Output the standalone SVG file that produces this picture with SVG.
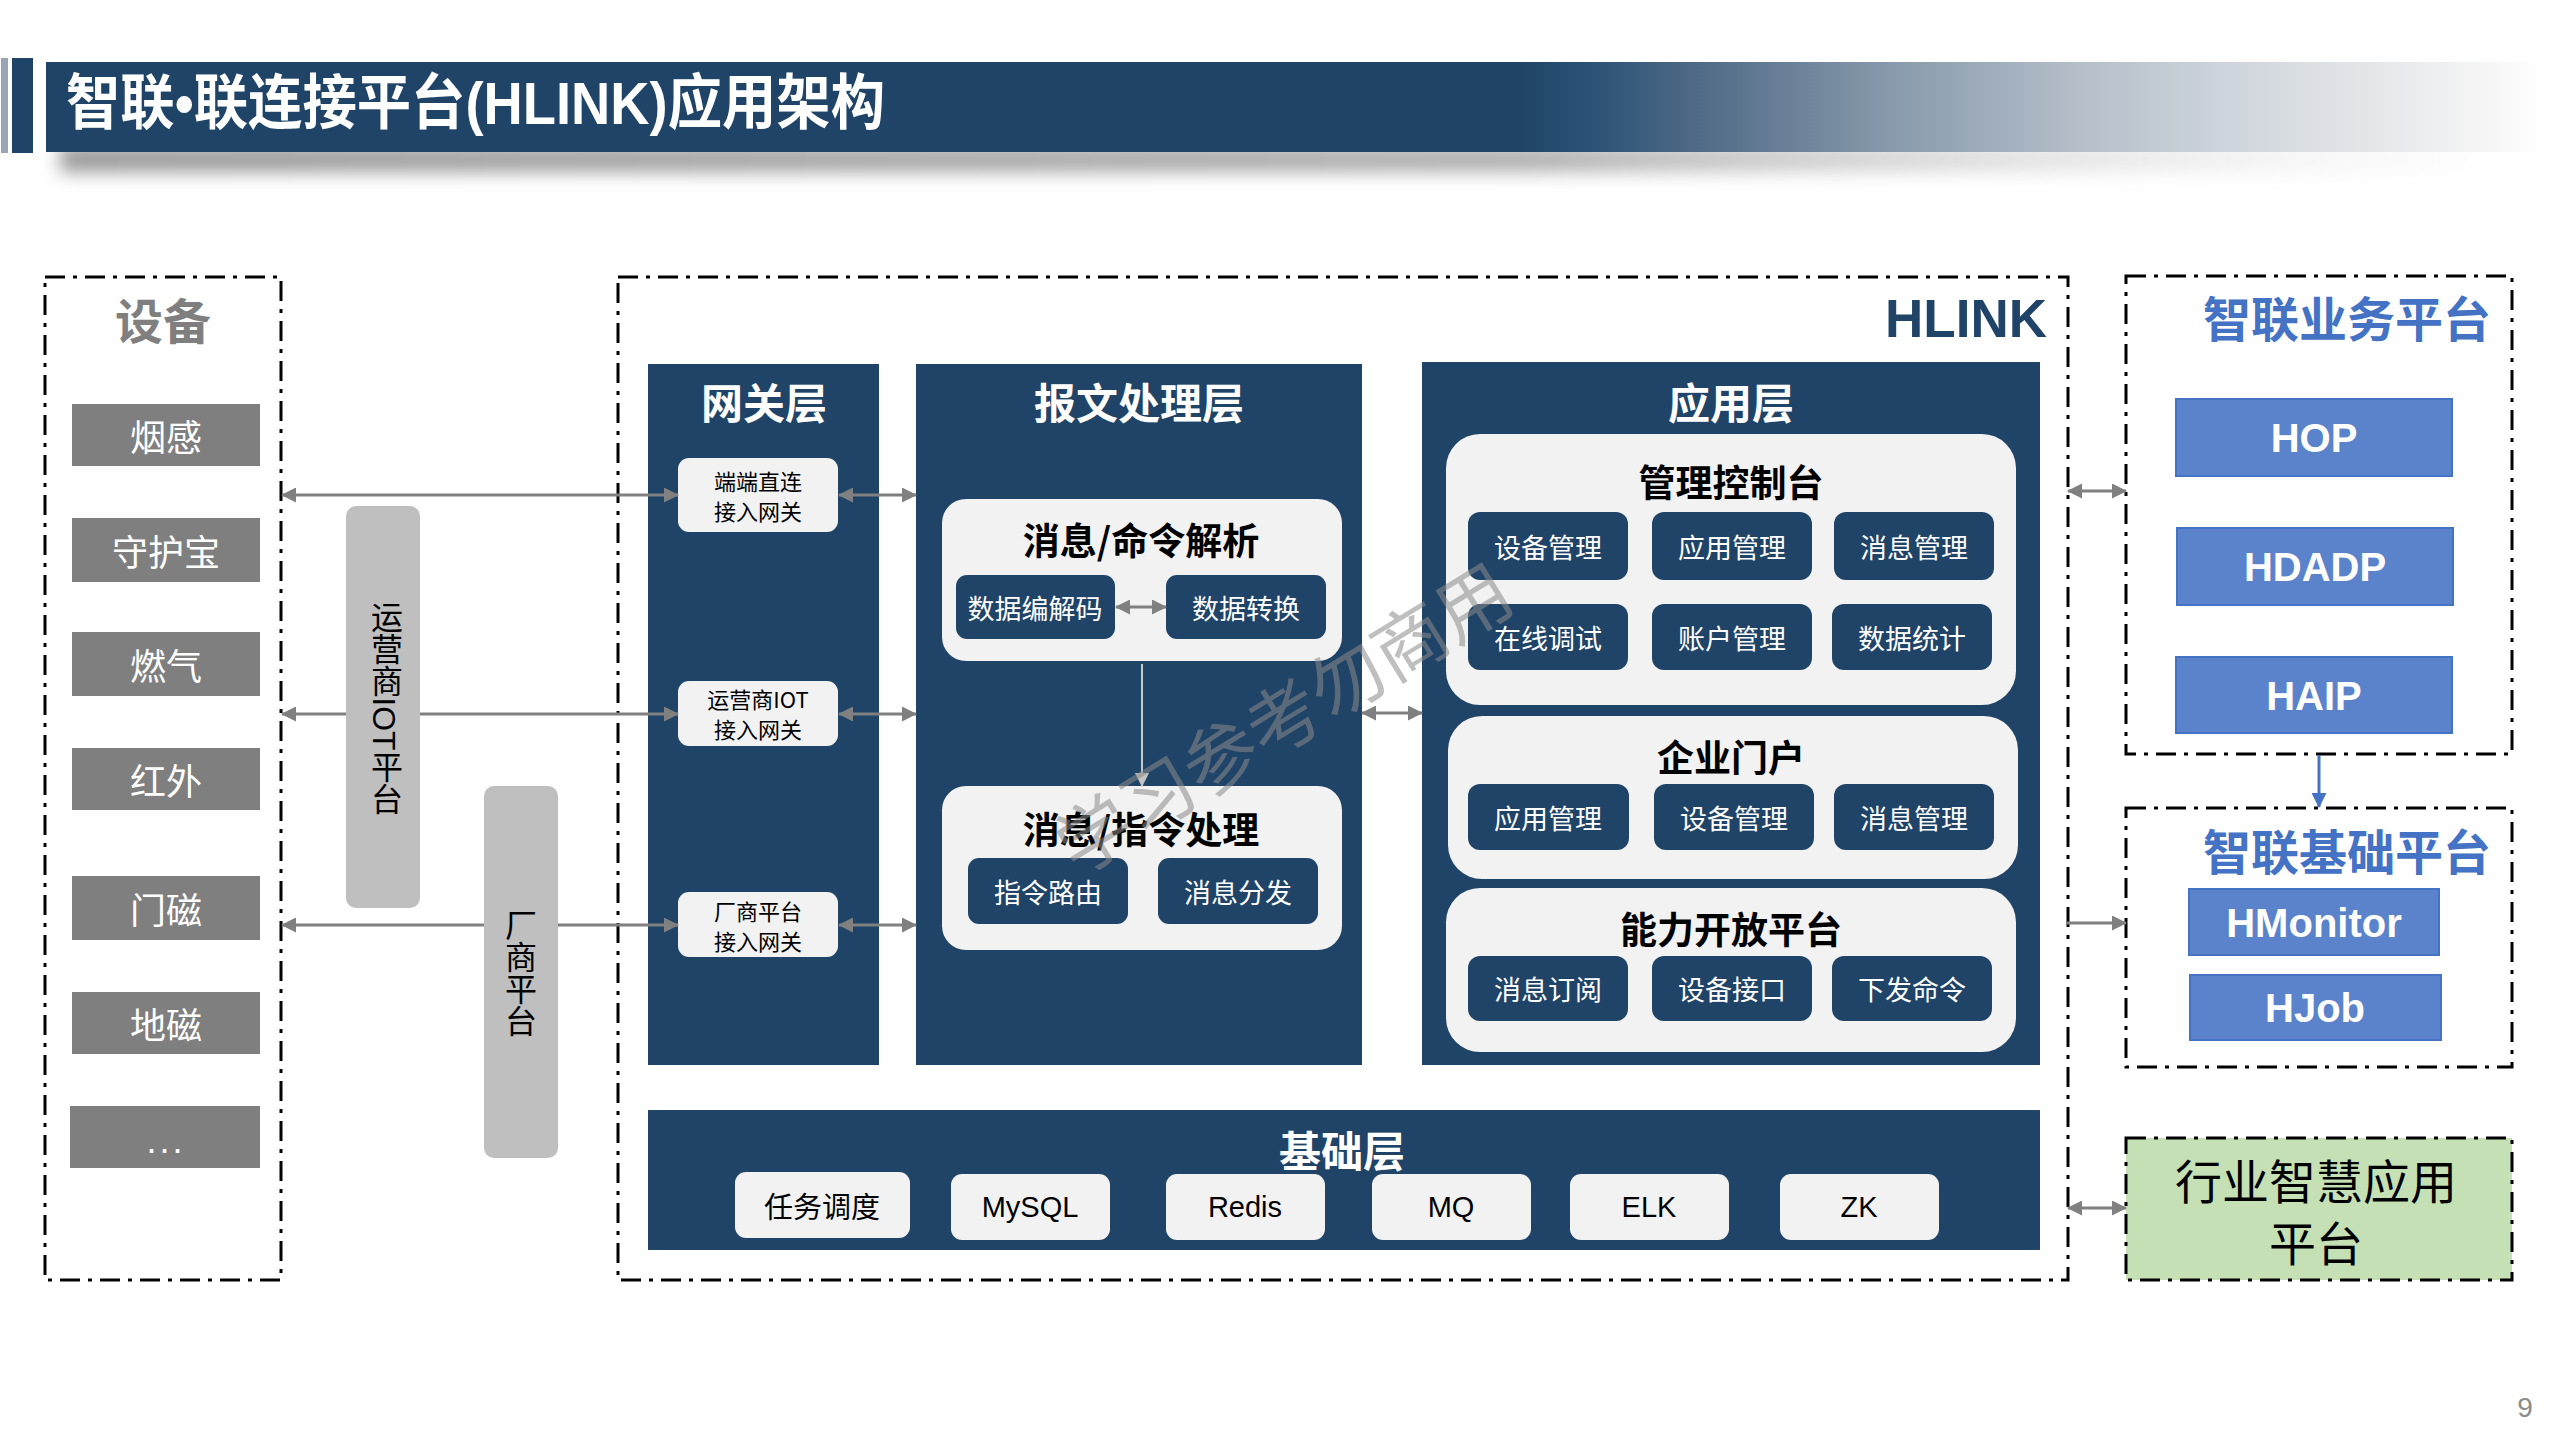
<svg xmlns="http://www.w3.org/2000/svg" width="2560" height="1440" viewBox="0 0 2560 1440">
<style>
.cjk{font-family:"Noto Sans CJK SC","Liberation Sans",sans-serif}
.lat{font-family:"Liberation Sans","Noto Sans CJK SC",sans-serif}
.c{text-anchor:middle;dominant-baseline:central}
.navy{fill:#1f4468}
.light{fill:#f2f2f2}
.dev{fill:#7f7f7f}
.devt{fill:#ffffff;font-size:36px}
.bar{fill:#bfbfbf}
.vt{fill:#000;font-size:32px;writing-mode:vertical-rl}
.colt{fill:#ffffff;font-size:42px;font-weight:bold}
.pt{fill:#000;font-size:37px;font-weight:bold}
.sbt{fill:#ffffff;font-size:27px}
.gwt{fill:#000;font-size:22px}
.baset{fill:#000;font-size:29px}
.dash{fill:none;stroke:#000;stroke-width:3;stroke-dasharray:20 8 4 8}
.bt{fill:#4472c4;font-size:48px;font-weight:bold}
.blue{fill:#5a83cb;stroke:#4472c4;stroke-width:2}
.bwt{fill:#ffffff;font-size:40px;font-weight:bold}
.conn{stroke:#808080;stroke-width:3;fill:none}
</style>
<defs>
<linearGradient id="tg" gradientUnits="userSpaceOnUse" x1="46" y1="0" x2="2540" y2="0">
<stop offset="0" stop-color="#1f4468"/>
<stop offset="0.59" stop-color="#1f4468"/>
<stop offset="0.62" stop-color="#2c5277"/>
<stop offset="0.662" stop-color="#4f6a86"/>
<stop offset="0.742" stop-color="#8a9bad"/>
<stop offset="0.822" stop-color="#b8c2cc"/>
<stop offset="0.901" stop-color="#d8dde2"/>
<stop offset="0.981" stop-color="#f6f6f6"/>
<stop offset="1" stop-color="#ffffff"/>
</linearGradient>
<linearGradient id="sg" gradientUnits="userSpaceOnUse" x1="60" y1="0" x2="2500" y2="0">
<stop offset="0" stop-color="#8c8c8c" stop-opacity="0.9"/>
<stop offset="0.6" stop-color="#9a9a9a" stop-opacity="0.8"/>
<stop offset="1" stop-color="#cccccc" stop-opacity="0"/>
</linearGradient>
<filter id="blur" x="-5%" y="-100%" width="110%" height="300%"><feGaussianBlur stdDeviation="9"/></filter>
<marker id="ah" markerUnits="userSpaceOnUse" markerWidth="15" markerHeight="15" viewBox="0 0 15 15" refX="14" refY="7.5" orient="auto-start-reverse"><path d="M0,0 L15,7.5 L0,15 z" fill="#808080"/></marker>
<marker id="ahl" markerUnits="userSpaceOnUse" markerWidth="14" markerHeight="14" viewBox="0 0 14 14" refX="13" refY="7" orient="auto-start-reverse"><path d="M0,0 L14,7 L0,14 z" fill="#c4c4c4"/></marker>
<marker id="ahb" markerUnits="userSpaceOnUse" markerWidth="15" markerHeight="15" viewBox="0 0 15 15" refX="14" refY="7.5" orient="auto-start-reverse"><path d="M0,0 L15,7.5 L0,15 z" fill="#4472c4"/></marker>
</defs>
<rect width="2560" height="1440" fill="#ffffff"/>

<g id="header">
<rect x="60" y="146" width="2420" height="26" fill="url(#sg)" filter="url(#blur)"/>
<rect x="1" y="58" width="7" height="95" fill="#9aa4b2"/>
<rect x="12" y="58" width="21" height="95" fill="#1f4468"/>
<rect x="46" y="62" width="2494" height="90" fill="url(#tg)"/>
<text x="66" y="103" style="font-family:'Liberation Sans','Noto Sans CJK SC',sans-serif;dominant-baseline:central;fill:#fff;font-size:60px;font-weight:bold" textLength="819" lengthAdjust="spacingAndGlyphs">智联•联连接平台(HLINK)应用架构</text>
</g>

<g id="devices">
<rect x="45" y="277" width="236" height="1003" class="dash"/>
<text x="163" y="318" class="cjk c" style="fill:#7f7f7f;font-size:48px;font-weight:bold">设备</text>
<rect x="72" y="404" width="188" height="62" class="dev"/>
<text x="166" y="435" class="cjk c devt">烟感</text>
<rect x="72" y="518" width="188" height="64" class="dev"/>
<text x="166" y="550" class="cjk c devt">守护宝</text>
<rect x="72" y="632" width="188" height="64" class="dev"/>
<text x="166" y="664" class="cjk c devt">燃气</text>
<rect x="72" y="748" width="188" height="62" class="dev"/>
<text x="166" y="779" class="cjk c devt">红外</text>
<rect x="72" y="876" width="188" height="64" class="dev"/>
<text x="166" y="908" class="cjk c devt">门磁</text>
<rect x="72" y="992" width="188" height="62" class="dev"/>
<text x="166" y="1023" class="cjk c devt">地磁</text>
<rect x="70" y="1106" width="190" height="62" class="dev"/>
<text x="166" y="1140" class="lat c devt" style="letter-spacing:3px">...</text>
</g>

<g id="hlink">
<rect x="618" y="277" width="1450" height="1003" class="dash"/>
<text x="2047" y="337" class="lat" style="fill:#1f4468;font-size:53px;font-weight:bold;text-anchor:end">HLINK</text>
</g>

<g id="gateway-layer">
<rect x="648" y="364" width="231" height="701" class="navy"/>
<text x="764" y="400" class="cjk c colt">网关层</text>
<g id="gw-direct">
<rect x="678" y="458" width="160" height="74" rx="11" class="light"/>
<text x="758" y="480" class="cjk c gwt">端端直连</text>
<text x="758" y="510" class="cjk c gwt">接入网关</text>
</g>
<g id="gw-operator">
<rect x="678" y="681" width="160" height="65" rx="11" class="light"/>
<text x="758" y="698" class="cjk c gwt">运营商IOT</text>
<text x="758" y="728" class="cjk c gwt">接入网关</text>
</g>
<g id="gw-vendor">
<rect x="678" y="892" width="160" height="65" rx="11" class="light"/>
<text x="758" y="910" class="cjk c gwt">厂商平台</text>
<text x="758" y="940" class="cjk c gwt">接入网关</text>
</g>
</g>

<g id="message-layer">
<rect x="916" y="364" width="446" height="701" class="navy"/>
<text x="1139" y="400" class="cjk c colt">报文处理层</text>
<g id="parse">
<rect x="942" y="499" width="400" height="162" rx="24" class="light"/>
<text x="1141" y="539" class="cjk c pt">消息/命令解析</text>
<rect x="956" y="575" width="159" height="64" rx="11" class="navy"/>
<text x="1035" y="607" class="cjk c sbt">数据编解码</text>
<rect x="1166" y="575" width="160" height="64" rx="11" class="navy"/>
<text x="1246" y="607" class="cjk c sbt">数据转换</text>
</g>
<g id="process">
<rect x="942" y="786" width="400" height="164" rx="24" class="light"/>
<text x="1141" y="828" class="cjk c pt">消息/指令处理</text>
<rect x="968" y="858" width="160" height="66" rx="11" class="navy"/>
<text x="1048" y="891" class="cjk c sbt">指令路由</text>
<rect x="1158" y="858" width="160" height="66" rx="11" class="navy"/>
<text x="1238" y="891" class="cjk c sbt">消息分发</text>
</g>
</g>

<g id="app-layer">
<rect x="1422" y="362" width="618" height="703" class="navy"/>
<text x="1731" y="400" class="cjk c colt">应用层</text>
<g id="console">
<rect x="1446" y="434" width="570" height="271" rx="34" class="light"/>
<text x="1731" y="481" class="cjk c pt">管理控制台</text>
<rect x="1468" y="512" width="160" height="68" rx="12" class="navy"/>
<text x="1548" y="546" class="cjk c sbt">设备管理</text>
<rect x="1652" y="512" width="160" height="68" rx="12" class="navy"/>
<text x="1732" y="546" class="cjk c sbt">应用管理</text>
<rect x="1834" y="512" width="160" height="68" rx="12" class="navy"/>
<text x="1914" y="546" class="cjk c sbt">消息管理</text>
<rect x="1468" y="604" width="160" height="66" rx="12" class="navy"/>
<text x="1548" y="637" class="cjk c sbt">在线调试</text>
<rect x="1652" y="604" width="160" height="66" rx="12" class="navy"/>
<text x="1732" y="637" class="cjk c sbt">账户管理</text>
<rect x="1832" y="604" width="160" height="66" rx="12" class="navy"/>
<text x="1912" y="637" class="cjk c sbt">数据统计</text>
</g>
<g id="portal">
<rect x="1448" y="716" width="570" height="163" rx="34" class="light"/>
<text x="1731" y="756" class="cjk c pt">企业门户</text>
<rect x="1468" y="784" width="161" height="66" rx="12" class="navy"/>
<text x="1548" y="817" class="cjk c sbt">应用管理</text>
<rect x="1654" y="784" width="160" height="66" rx="12" class="navy"/>
<text x="1734" y="817" class="cjk c sbt">设备管理</text>
<rect x="1834" y="784" width="160" height="66" rx="12" class="navy"/>
<text x="1914" y="817" class="cjk c sbt">消息管理</text>
</g>
<g id="open-platform">
<rect x="1446" y="888" width="570" height="164" rx="34" class="light"/>
<text x="1731" y="928" class="cjk c pt">能力开放平台</text>
<rect x="1468" y="956" width="160" height="65" rx="12" class="navy"/>
<text x="1548" y="988" class="cjk c sbt">消息订阅</text>
<rect x="1652" y="956" width="160" height="65" rx="12" class="navy"/>
<text x="1732" y="988" class="cjk c sbt">设备接口</text>
<rect x="1832" y="956" width="160" height="65" rx="12" class="navy"/>
<text x="1912" y="988" class="cjk c sbt">下发命令</text>
</g>
</g>

<g id="base-layer">
<rect x="648" y="1110" width="1392" height="140" class="navy"/>
<text x="1342" y="1148" class="cjk c colt">基础层</text>
<rect x="735" y="1172" width="175" height="66" rx="11" class="light"/>
<text x="822" y="1205" class="cjk c baset">任务调度</text>
<rect x="951" y="1174" width="159" height="66" rx="11" class="light"/>
<text x="1030" y="1207" class="lat c baset">MySQL</text>
<rect x="1166" y="1174" width="159" height="66" rx="11" class="light"/>
<text x="1245" y="1207" class="lat c baset">Redis</text>
<rect x="1372" y="1174" width="159" height="66" rx="11" class="light"/>
<text x="1451" y="1207" class="lat c baset">MQ</text>
<rect x="1570" y="1174" width="159" height="66" rx="11" class="light"/>
<text x="1649" y="1207" class="lat c baset">ELK</text>
<rect x="1780" y="1174" width="159" height="66" rx="11" class="light"/>
<text x="1859" y="1207" class="lat c baset">ZK</text>
</g>

<g id="biz-platform">
<rect x="2126" y="276" width="386" height="478" class="dash"/>
<text x="2347" y="316" class="cjk c bt">智联业务平台</text>
<rect x="2176" y="399" width="276" height="77" class="blue"/>
<text x="2314" y="438" class="lat c bwt">HOP</text>
<rect x="2177" y="528" width="276" height="77" class="blue"/>
<text x="2315" y="567" class="lat c bwt">HDADP</text>
<rect x="2176" y="657" width="276" height="76" class="blue"/>
<text x="2314" y="696" class="lat c bwt">HAIP</text>
</g>

<g id="base-platform">
<rect x="2126" y="808" width="386" height="259" class="dash"/>
<text x="2347" y="849" class="cjk c bt">智联基础平台</text>
<rect x="2189" y="889" width="250" height="66" class="blue"/>
<text x="2314" y="923" class="lat c bwt">HMonitor</text>
<rect x="2190" y="975" width="251" height="65" class="blue"/>
<text x="2315" y="1008" class="lat c bwt">HJob</text>
</g>

<g id="industry-platform">
<rect x="2126" y="1138" width="386" height="142" fill="#c5e0b4"/>
<rect x="2126" y="1138" width="386" height="142" class="dash"/>
<text class="cjk c" style="fill:#000;font-size:47px"><tspan x="2316" y="1178">行业智慧应用</tspan><tspan x="2316" y="1240">平台</tspan></text>
</g>

<g id="connectors">
<line x1="282" y1="495" x2="678" y2="495" class="conn" marker-start="url(#ah)" marker-end="url(#ah)"/>
<line x1="282" y1="714" x2="678" y2="714" class="conn" marker-start="url(#ah)" marker-end="url(#ah)"/>
<line x1="282" y1="925" x2="678" y2="925" class="conn" marker-start="url(#ah)" marker-end="url(#ah)"/>
<line x1="839" y1="495" x2="916" y2="495" class="conn" marker-start="url(#ah)" marker-end="url(#ah)"/>
<line x1="839" y1="714" x2="916" y2="714" class="conn" marker-start="url(#ah)" marker-end="url(#ah)"/>
<line x1="839" y1="925" x2="916" y2="925" class="conn" marker-start="url(#ah)" marker-end="url(#ah)"/>
<line x1="1116" y1="607" x2="1166" y2="607" class="conn" marker-start="url(#ah)" marker-end="url(#ah)"/>
<line x1="1142" y1="664" x2="1142" y2="786" stroke="#c8c8c8" stroke-width="2" marker-end="url(#ahl)"/>
<line x1="1362" y1="713" x2="1422" y2="713" class="conn" marker-start="url(#ah)" marker-end="url(#ah)"/>
<line x1="2068" y1="491" x2="2126" y2="491" class="conn" marker-start="url(#ah)" marker-end="url(#ah)"/>
<line x1="2066" y1="923" x2="2126" y2="923" class="conn" marker-end="url(#ah)"/>
<line x1="2068" y1="1208" x2="2126" y2="1208" class="conn" marker-start="url(#ah)" marker-end="url(#ah)"/>
<line x1="2319" y1="755" x2="2319" y2="807" stroke="#4472c4" stroke-width="3" marker-end="url(#ahb)"/>
</g>

<g id="operator-iot-platform">
<rect x="346" y="506" width="74" height="402" rx="10" class="bar"/>
<text x="384" y="708" class="lat vt" style="text-anchor:middle">运营商IOT平台</text>
</g>
<g id="vendor-platform">
<rect x="484" y="786" width="74" height="372" rx="10" class="bar"/>
<text x="521" y="973" class="cjk vt" style="text-anchor:middle">厂商平台</text>
</g>

<g id="watermark">
<text x="1281" y="714" class="cjk c" transform="rotate(-31.5 1281 714)" style="fill:#8a8a8a;fill-opacity:0.55;font-size:74px">学习参考勿商用</text>
</g>

<text x="2525" y="1407" class="lat c" style="fill:#8c8c8c;font-size:28px">9</text>
</svg>
